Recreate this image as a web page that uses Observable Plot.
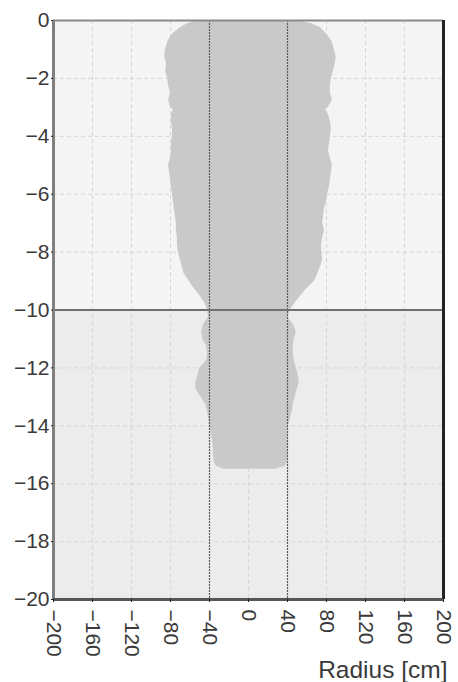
<!DOCTYPE html>
<html>
<head>
<meta charset="utf-8">
<script src="https://cdn.jsdelivr.net/npm/d3@7"></script>
<script src="https://cdn.jsdelivr.net/npm/@observablehq/plot@0.6"></script>
<style>
  html, body { margin: 0; padding: 0; background: #fff; }
  #chart svg { display: block; }
</style>
</head>
<body>
<div id="chart"></div>
<script>
// Depth (m) and left/right radius (cm) of the grey profile
const depth = [0, -0.1, -0.25, -0.5, -0.75, -1.0, -1.25, -1.5, -1.75, -2.0, -2.25, -2.5, -2.75, -3.0, -3.1, -3.25, -3.5, -3.75, -4.0, -4.25, -4.5, -4.75, -5.0, -5.25, -5.5, -5.75, -6.0, -6.25, -6.5, -6.75, -7.0, -7.25, -7.5, -7.75, -8.0, -8.25, -8.5, -8.75, -9.0, -9.25, -9.5, -9.75, -10.0, -10.25, -10.5, -10.75, -11.0, -11.25, -11.5, -11.75, -12.0, -12.25, -12.5, -12.75, -13.0, -13.25, -13.5, -13.75, -14.0, -14.25, -14.5, -14.75, -15.0, -15.25, -15.4, -15.5];
const leftRadius = [-50, -62, -70, -79, -83, -85, -86, -84, -85, -83, -82, -80, -82, -80, -77, -79, -79, -78, -78, -79, -79, -80, -82, -81, -80, -79, -78, -77, -76, -75, -74, -74, -73, -73, -72, -70, -68, -66, -61, -56, -50, -45, -42, -41, -46, -48, -47, -43, -42, -43, -50, -52, -54, -54, -49, -44, -42, -41, -40, -38, -37, -36, -36, -35, -33, -25];
const rightRadius = [48, 64, 74, 81, 86, 88, 90, 89, 87, 85, 84, 84, 86, 82, 79, 82, 84, 85, 84, 83, 82, 84, 86, 85, 84, 83, 81, 80, 78, 77, 76, 78, 76, 75, 75, 76, 74, 71, 68, 60, 54, 48, 43, 40, 46, 49, 47, 46, 46, 47, 49, 51, 52, 50, 48, 46, 45, 43, 41, 40, 41, 41, 41, 40, 38, 28];

const xTicks = [-200, -160, -120, -80, -40, 0, 40, 80, 120, 160, 200];
const yTicks = [0, -2, -4, -6, -8, -10, -12, -14, -16, -18, -20];
const zoneTop = [0, -10];
const zoneBottom = [-10, -20];
const zoneFill = ["#f4f4f4", "#ececec"];
const markerX = [-40, 40];
const markerY = [-10];
const xTitle = ["Radius [cm]"];

const profile = depth.map((d, i) => ({depth: d, left: leftRadius[i], right: rightRadius[i]}));
const zones = zoneTop.map((t, i) => ({top: t, bottom: zoneBottom[i], fill: zoneFill[i]}));

const chart = Plot.plot({
  width: 458,
  height: 682,
  marginLeft: 53,
  marginRight: 15,
  marginTop: 20,
  marginBottom: 83,
  style: {fontFamily: "'Liberation Sans', Arial, sans-serif", fontSize: "21px", color: "#3a3a3a", background: "#fff"},
  x: {domain: [-200, 200]},
  y: {domain: [-20, 0]},
  marks: [
    Plot.rect(zones, {x1: -200, x2: 200, y1: "bottom", y2: "top", fill: "fill"}),
    Plot.ruleX(xTicks, {stroke: "#d6d6d6", strokeDasharray: "4,3", strokeWidth: 1}),
    Plot.ruleY(yTicks, {stroke: "#d6d6d6", strokeDasharray: "4,3", strokeWidth: 1}),
    Plot.areaX(profile, {y: "depth", x1: "left", x2: "right", fill: "#c9c9c9", curve: "linear"}),
    Plot.ruleX(markerX, {stroke: "#5a5a5a", strokeDasharray: "2,1", strokeWidth: 1.2}),
    Plot.ruleY(markerY, {stroke: "#707070", strokeWidth: 2}),
    Plot.ruleY([0], {stroke: "#8a8a8a", strokeWidth: 2}),
    Plot.ruleX([200], {stroke: "#222", strokeWidth: 3}),
    Plot.ruleX([-200], {stroke: "#808080", strokeWidth: 3}),
    Plot.ruleY([-20], {stroke: "#555", strokeWidth: 3}),
    Plot.axisY({ticks: yTicks, tickSize: 2, tickPadding: 2, stroke: "#222", label: null, fontSize: 21}),
    Plot.axisX({ticks: xTicks, tickSize: 3, tickPadding: 7, tickRotate: 90, stroke: "#222", label: null, fontSize: 21}),
    Plot.text(xTitle, {text: d => d, frameAnchor: "bottom-right", textAnchor: "end", lineAnchor: "bottom", dx: 4, dy: 78, fontSize: 24.5, fill: "#3a3a3a"})
  ]
});
document.getElementById("chart").appendChild(chart);
</script>
</body>
</html>
